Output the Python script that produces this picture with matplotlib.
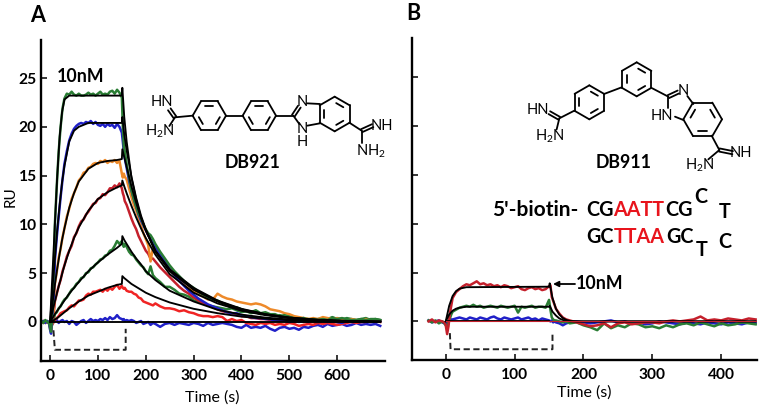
import numpy as np
import matplotlib
matplotlib.use('Agg')
import matplotlib.pyplot as plt

plt.rcParams['font.family'] = ['Lato', 'DejaVu Sans']
plt.rcParams['font.weight'] = 'bold'
plt.rcParams['mathtext.default'] = 'regular'

W, H = 762, 411

# Panel A, tiempos de las trazas
t_a = ([-18, -14, -10, -6, -2, 0, 2, 4, 6, 8]
       + [10, 14, 18, 22, 26, 30, 35, 40, 45, 50, 55, 60, 65, 70, 75, 80, 85, 90, 95, 100,
          105, 110, 115, 120, 125, 130, 135, 140, 145, 150]
       + [152, 154, 156, 160, 165, 170, 175, 180, 185, 190, 195, 200, 205, 210, 215, 220]
       + [230, 240, 250, 260, 270, 280, 290, 300, 310, 320, 330, 340, 350, 360, 370, 380,
          390, 400, 410, 420, 430, 440, 450, 460, 470, 480, 490, 500, 510, 520, 530, 540,
          550, 560, 570, 580, 590, 600, 610, 620, 630, 640, 650, 660, 670, 680, 690])

green_top = ([.1, -.1, .2, 0, -.1, -.6, -1, .5, 3, 6]
             + [10, 14, 17.5, 20, 21.9, 22.9, 23.4, 23.3, 23.6, 23.3, 23.2, 23.4, 23.2, 23.2, 23.3,
                23.5, 23.3, 23.4, 23.2, 23.4, 23.6, 23.3, 23.4, 23.3, 23.6, 23.7, 23.4, 23.8, 23.5, 23]
             + [20, 18, 17.5, 16.2, 14.8, 13.5, 12.6, 11.8, 11.1, 10.6, 10, 9.5, 9.1, 8.9, 8.5, 8]
             + [7.2, 6.5, 5.8, 5.2, 4.7, 4.2, 3.8, 3.5, 3.1, 2.8, 2.5, 2.3, 2.2, 1.9, 1.7,
                1.5, 1.5, 1.3, 1.1, 1, 1.2, .9, 1, .8, .8, .6, .7, .5, .4, .3, .4, .2, .3, .2,
                .3, .2, .4, .3, .4, .3, .2, .2, .3, .2, .3, .3, .2])
blue_a = ([0, .1, -.1, .1, -.2, -.8, -1.2, .2, 1.5, 3]
          + [6.3, 8.7, 10.8, 12.8, 14.6, 16.2, 17.5, 18.6, 19.3, 19.8, 20.1, 20.3, 20.4, 20.3, 20.5,
             20.4, 20.6, 20.3, 20.5, 20.2, 20.1, 20.3, 20, 20.3, 20.1, 20.2, 19.9, 20.3, 20, 19.4]
          + [18.5, 17.5, 16.8, 15.8, 14.5, 13.5, 12.6, 11.8, 11, 10.4, 9.9, 9.4, 8.9, 8.5, 8.1, 7.7]
          + [6.9, 6.2, 5.4, 4.8, 4.2, 3.7, 3.2, 2.8, 2.4, 2.1, 1.8, 1.6, 1.4, 1.2, 1,
             .9, .9, .7, .6, .5, .4, .4, .3, .3, .1, .2, .1, 0, .1, 0, .1, 0, .2, .1, .1,
             0, .1, 0, -.1, .1, 0, .1, 0, .1, 0, 0, .1])
orange_a = ([0, -.1, .1, -.1, 0, -.7, -.9, -.2, .6, 1.5]
            + [3.9, 5.1, 6.6, 7.5, 8.7, 9.6, 10.8, 11.6, 12.6, 13.2, 13.8, 14.5, 14.8, 15.3, 15.4,
               15.8, 15.9, 16.2, 16.3, 16.2, 16.5, 16.4, 16.6, 16.3, 16.5, 16.4, 16.6, 16.3, 16.5, 15.2]
            + [14.8, 15.2, 14.9, 14.6, 13.7, 12.8, 12, 11.4, 10.6, 9.9, 9.1, 8.5, 7.9, 6.2, 7.6, 7.4]
            + [6.8, 6.1, 5.4, 4.8, 4.3, 3.8, 3.4, 3.2, 2.8, 2.6, 2.3, 2.3, 2.9, 2.6, 2.4,
               2.3, 2.1, 2, 1.9, 1.8, 1.9, 1.8, 1.6, 1.3, 1.2, 1.1, .9, .8, .6, .5, .4, .3, .4, .3, .5,
               .4, .3, .4, .3, .2, .3, .2, .1, .3, .2, .2, .1])
darkred_a = ([0, .1, -.1, 0, -.1, -.5, -.8, -.3, .2, 1]
             + [2.1, 2.9, 3.7, 4.3, 5.2, 5.8, 6.7, 7.3, 7.8, 8.7, 9.1, 9.8, 10.3, 10.5, 11,
                11.3, 11.7, 12.1, 12.2, 12.6, 12.7, 13.1, 13, 13.3, 13.7, 13.7, 14, 13.8, 14.2, 13.7]
             + [13.2, 12.9, 12.4, 12, 11.3, 10.6, 10, 9.5, 8.8, 8.3, 7.8, 7.3, 7, 6.5, 6.5, 6.2]
             + [5.6, 5.1, 4.6, 4.1, 3.6, 3.2, 2.9, 2.5, 2.2, 1.9, 1.7, 1.5, 1.3, 1.1, 1,
                .9, .8, .6, .6, .4, .4, .3, .3, .2, .2, .1, .2, .1, 0, .1, 0, .1, 0, -.1, .1,
                0, .1, 0, 0, .1, 0, .1, 0, 0, .1, 0, .1])
green_a = ([.1, -.1, 0, .1, 0, -.4, -.5, -.2, 0, .3]
           + [.8, 1, 1.4, 1.6, 2, 2.3, 2.5, 2.9, 3.3, 3.5, 3.9, 4.1, 4.5, 4.6, 5,
              5.1, 5.5, 5.6, 5.9, 6.1, 6.4, 6.5, 6.8, 6.9, 7.3, 7.4, 7.8, 8.3, 8, 8.3]
           + [8, 7.7, 8, 7.7, 7.2, 6.9, 6.8, 6.4, 6.1, 5.8, 5.6, 5.2, 4.9, 5.7, 4.8, 4.5]
           + [4.1, 3.6, 3.6, 3.3, 2.9, 2.8, 2.6, 2.2, 2.1, 2, 1.7, 1.6, 1.5, 1.4, 1.3,
              1.4, 1.2, 1, 1.1, .9, 1, .8, .9, .7, .6, .7, .5, .6, .5, .3, .4, .3, .2, .3, .4,
              .3, .5, .3, .2, .4, .3, .2, .3, .4, .2, .3, .2])
red_a = ([0, .1, -.1, 0, -.1, -.3, -.4, -.2, -.1, 0]
         + [.2, .4, .6, .9, 1, 1.1, 1.2, 1.5, 1.7, 1.6, 1.9, 2.2, 2.2, 2.3, 2.7,
            2.9, 2.8, 3.1, 3.1, 3.2, 3.3, 3.1, 3.4, 3.2, 3.5, 3.3, 3.6, 3.8, 3.4, 3.7]
         + [3.5, 3.4, 3.5, 3.2, 3.1, 3.1, 2.9, 2.8, 2.5, 2.4, 2.1, 2, 1.9, 1.8, 1.7, 1.9]
         + [1.6, 1.4, 1.4, 1.3, 1.1, 1.2, 1, .9, .7, .6, .6, .5, .6, .5, .1,
            .3, .1, .2, -.1, -.2, -.3, -.1, -.2, -.1, -.3, -.2, -.3, -.1, -.2, -.4,
            -.3, -.2, -.3, -.1, -.2, -.1, -.2, -.3, -.2, -.1, 0, -.1, 0, .1, 0, .1, 0])
blue2_a = ([.1, -.1, .1, 0, -.1, -.3, -.5, -.3, -.1, 0]
           + [.1, .2, -.1, .1, .2, 0, .1, -.2, .1, 0, -.3, -.1, .1, .2, -.1,
              .1, .3, .1, .2, .1, .3, .2, .4, .2, .5, .3, .4, .7, .4, .3]
           + [.2, .3, .1, .2, .1, .2, .1, -.1, 0, .1, -.2, -.1, 0, -.3, -.1, -.2]
           + [-.5, -.2, -.1, -.3, -.1, -.2, -.3, -.1, -.2, -.4, -.1, -.3, -.2, -.1, -.2,
              -.3, -.5, -.6, -.3, -.6, -.5, -.6, -.4, -.7, -.9, -.6, -.5, -.7, -.6, -.8,
              -.5, -.6, -.4, -.3, -.5, -.2, -.4, -.3, -.2, -.4, -.3, -.1, -.3, -.2, -.3, -.2, -.4])

# Ajustes (lineas negras) panel A
t_fit_a = [0, 5, 10, 15, 20, 25, 30, 40, 50, 60, 80, 100, 120, 140, 150, 151, 155, 160, 170, 180,
           190, 200, 220, 250, 300, 350, 400, 450, 500, 550, 600, 690]
fit1_a = [0, 5, 10, 15, 19, 21.5, 22.8, 23.2, 23.2, 23.2, 23.2, 23.2, 23.2, 23.2, 23.2, 24, 21, 18.5,
          14.8, 12.5, 10.7, 9.4, 7.3, 5.4, 3.5, 2.2, 1.35, .8, .45, .25, .13, .03]
fit2_a = [0, 3.5, 6.5, 9.5, 12, 14.3, 16, 18.5, 19.6, 20, 20.4, 20.4, 20.4, 20.4, 20.4, 21, 19.2, 17.6,
          14.9, 12.7, 10.9, 9.5, 7.3, 5.3, 3.4, 2.15, 1.3, .8, .45, .25, .13, .03]
fit3_a = [0, 1.9, 3.8, 5.5, 7, 8.4, 9.6, 11.7, 13.2, 14.4, 15.7, 16.3, 16.5, 16.6, 16.7, 17.7, 16.9, 15.9,
          13.9, 12.2, 10.7, 9.4, 7.2, 5.2, 3.3, 2.1, 1.25, .75, .42, .23, .12, .03]
fit4_a = [0, 1.1, 2.1, 3.1, 4, 4.9, 5.8, 7.3, 8.6, 9.7, 11.4, 12.6, 13.3, 13.8, 14, 14.5, 13.9, 13.2,
          11.9, 10.7, 9.6, 8.6, 6.9, 4.9, 3, 1.9, 1.15, .7, .4, .22, .12, .03]
fit5_a = [0, .4, .8, 1.15, 1.5, 1.85, 2.2, 2.9, 3.5, 4.1, 5.2, 6.1, 6.9, 7.6, 8, 8.8, 8.4, 8,
          7.2, 6.5, 5.9, 5.2, 4.3, 3.2, 2.1, 1.25, .75, .45, .25, .14, .07, .02]
fit6_a = [0, .1, .25, .4, .6, .8, 1, 1.4, 1.75, 2.1, 2.7, 3.1, 3.5, 3.8, 3.9, 4.7, 4.5, 4.3,
          3.9, 3.6, 3.3, 3, 2.55, 2, 1.35, .9, .55, .33, .18, .1, .05, .01]

# Panel B
t_b = ([-25, -20, -15, -10, -5, -2, 0, 2, 4, 6, 8]
       + [10, 15, 20, 25, 30, 35, 40, 45, 50, 55, 60, 65, 70, 75, 80, 85, 90, 95, 100,
          105, 110, 115, 120, 125, 130, 135, 140, 145, 150]
       + [152, 154, 156, 158, 160, 165, 170, 175, 180, 190]
       + [200, 210, 220, 230, 240, 250, 260, 270, 280, 290, 300, 310, 320, 330, 340, 350, 360,
          370, 380, 390, 400, 410, 420, 430, 440, 450])
red_b = ([0, .2, -.1, .1, 0, -.1, -.4, -1.3, -.5, .8, 1.6]
         + [2.4, 3, 3.3, 3.6, 3.8, 3.7, 3.9, 4.1, 3.8, 3.9, 3.7, 3.8, 3.6, 3.7, 3.5,
            3.7, 3.6, 3.4, 3.5, 3.6, 3.3, 3.2, 3.4, 3.5, 3.3, 3.4, 3.2, 3.3, 3.6]
         + [3.7, 2.5, 2.1, 1.7, 1.3, .8, .4, .2, .1, -.1]
         + [-.3, -.5, -.4, -.2, -.6, -.2, -.1, -.3, -.2, -.1, -.1, -.2, 0, .1, 0,
            .1, .2, .5, .1, .2, .1, .3, .2, .1, .3, .2])
green_b = ([.1, -.1, .1, -.2, 0, -.2, -.4, -.6, -.1, .3, .7]
           + [1, 1.2, 1.4, 1.5, 1.6, 1.5, 1.7, 1.5, 1.6, 1.4, 1.5, 1.6, 1.5, 1.4, 1.6,
              1.5, 1.4, 1.5, 1.6, .9, 1.5, 1.4, 1.5, 1.6, 1.4, 1.5, 1.5, 1.4, 2.2]
           + [1.2, .4, .2, .1, .1, 0, -.1, 0, -.2, -.1]
           + [-.4, -.6, -.9, -.2, -.7, -.4, -.6, -.2, -.3, -.6, -.5, -.7, -.4, -.6, -.3,
              -.2, -.4, -.1, -.3, -.5, -.2, -.4, -.3, -.1, -.2, -.3])
blue_b = ([.1, -.1, 0, .1, -.1, -.2, -.3, -.2, 0, .1, .2]
          + [.2, .3, .4, .3, .2, .4, .3, .2, .4, .3, .2, .4, .5, .3, .2,
             .4, .3, .2, .3, .4, .2, .3, .4, .2, .3, .1, .3, .2, .1]
          + [0, .1, -.1, 0, -.1, -.2, -.4, -.2, -.1, 0]
          + [-.1, -.2, -.1, 0, .1, -.1, 0, -.2, -.1, -.3, -.2, 0, -.1, -.2, -.3,
             -.1, -.2, -.3, -.1, -.2, -.3, -.1, -.2, -.3, -.1, -.2])

t_fit_b = [0, 5, 10, 15, 20, 30, 150, 151, 155, 160, 165, 170, 175, 180, 190, 450]
fit1_b = [0, 1.6, 2.6, 3.1, 3.35, 3.5, 3.55, 3.9, 2.4, 1.3, .7, .35, .15, .05, 0, 0]
fit2_b = [0, .7, 1.1, 1.3, 1.4, 1.5, 1.5, 1.6, 1, .6, .3, .15, .05, 0, 0, 0]

# Linea de inyeccion (punteada)
inject_a_t = [7, 10, 158, 158]
inject_a_y = [-.85, -2.85, -2.85, -.7]
inject_b_t = [6, 7, 155, 155]
inject_b_y = [-1.2, -2.85, -2.85, -1.35]

DGREEN = '#2a7d34'
BLUE = '#2020c8'
ORANGE = '#ee8a2a'
DRED = '#c4202c'
RED = '#f02424'


def arma_ejes(fig, izq, der, arriba, abajo, xlim, xticks, ylim):
    ax = fig.add_axes([izq / W, 1 - abajo / H, (der - izq) / W, (abajo - arriba) / H])
    ax.set_xlim(*xlim)
    ax.set_ylim(*ylim)
    ax.set_xticks(xticks)
    ax.set_yticks([0, 5, 10, 15, 20, 25])
    ax.spines['top'].set_visible(False)
    ax.spines['right'].set_visible(False)
    ax.spines['left'].set_linewidth(1.7)
    ax.spines['bottom'].set_linewidth(1.7)
    ax.tick_params(direction='in', length=4.2, width=1.1, labelsize=11.2)
    ax.tick_params(axis='x', pad=6)
    ax.tick_params(axis='y', pad=3)
    ax.patch.set_alpha(0)
    return ax


fig = plt.figure(figsize=(W / 100, H / 100), dpi=100)

ax1 = arma_ejes(fig, 41, 385, 40, 361, (-19, 700), [0, 100, 200, 300, 400, 500, 600], (-4, 28.9))
for y, c in [(blue2_a, BLUE), (red_a, RED), (green_a, DGREEN), (darkred_a, DRED),
             (orange_a, ORANGE), (blue_a, BLUE), (green_top, DGREEN)]:
    ax1.plot(t_a, y, color=c, lw=1.8)
for y in [fit6_a, fit5_a, fit4_a, fit3_a, fit2_a, fit1_a]:
    ax1.plot(t_fit_a, y, color='k', lw=1.35)
ax1.plot([0, 690], [0, 0], color='k', lw=1.35)
ax1.plot(inject_a_t, inject_a_y, color='#222222', lw=1.4, ls=(0, (3.2, 1.8)))

ax2 = arma_ejes(fig, 412, 757, 38, 360, (-49, 452), [0, 100, 200, 300, 400], (-3.95, 29))
ax2.set_yticklabels([])
for y, c in [(blue_b, BLUE), (green_b, DGREEN), (red_b, DRED)]:
    ax2.plot(t_b, y, color=c, lw=1.8)
ax2.plot(t_fit_b, fit1_b, color='k', lw=1.35)
ax2.plot(t_fit_b, fit2_b, color='k', lw=1.35)
ax2.plot([0, 150], [0, 0], color='k', lw=1.35)
ax2.plot([0, 450], [0.02, 0.02], color=DRED, lw=.8)
ax2.plot(inject_b_t, inject_b_y, color='#222222', lw=1.4, ls=(0, (3.2, 1.8)))

# Capa en pixeles para estructuras y rotulos
ov = fig.add_axes([0, 0, 1, 1], zorder=5)
ov.set_xlim(0, W)
ov.set_ylim(H, 0)
ov.axis('off')


def t(x, y, s, size=10.5, color='k', ha='center', weight='bold', **kw):
    ov.text(x, y, s, fontsize=size, color=color, ha=ha, va='center', fontweight=weight, **kw)


def seg(p, q, lw=1.3):
    ov.plot([p[0], q[0]], [p[1], q[1]], color='k', lw=lw, solid_capstyle='round')


def anillo(cx, cy, r, ang0, dobles=(0, 2, 4)):
    # hexagono con enlaces dobles interiores
    a = np.radians(ang0 + 60 * np.arange(6))
    xs = cx + r * np.cos(a)
    ys = cy + r * np.sin(a)
    for i in range(6):
        j = (i + 1) % 6
        seg((xs[i], ys[i]), (xs[j], ys[j]))
        if i in dobles:
            x0 = cx + .68 * (xs[i] - cx)
            y0 = cy + .68 * (ys[i] - cy)
            x1 = cx + .68 * (xs[j] - cx)
            y1 = cy + .68 * (ys[j] - cy)
            m0 = (x0 + (x1 - x0) * .15, y0 + (y1 - y0) * .15)
            m1 = (x0 + (x1 - x0) * .85, y0 + (y1 - y0) * .85)
            seg(m0, m1)


def doble(p, q, off=1.6):
    dx, dy = q[0] - p[0], q[1] - p[1]
    n = np.hypot(dx, dy)
    ox, oy = -dy / n * off, dx / n * off
    seg((p[0] + ox, p[1] + oy), (q[0] + ox, q[1] + oy))
    seg((p[0] - ox, p[1] - oy), (q[0] - ox, q[1] - oy))


def za(zx, zy):
    return (130 + zx / 3, 60 + zy / 3)


def zb(zx, zy):
    return (400 + zx / 3, zy / 3)


# DB921
anillo(*za(238, 167), 50 / 3, 0)
anillo(*za(388, 167), 50 / 3, 0)
seg(za(288, 167), za(338, 167))
seg(za(188, 167), za(135, 172))
doble(za(135, 172), za(118, 148))
seg(za(135, 172), za(118, 198))
seg(za(438, 167), za(490, 167))
doble(za(490, 167), za(508, 140))
seg(za(490, 167), za(508, 192))
seg(za(532, 130), za(570, 132))
seg(za(532, 197), za(570, 190))
anillo(*za(614, 162), 52 / 3, 30, dobles=(0, 2, 4))
seg(za(658, 188), za(695, 212))
doble(za(695, 212), za(728, 197))
seg(za(695, 212), za(695, 250))
t(*za(95, 127), 'HN', size=10.5, weight='normal')
t(*za(88, 215), 'H$_2$N', size=10.5, weight='normal')
t(*za(518, 125), 'N', size=10.5, weight='normal')
t(*za(518, 226), 'N\nH', size=10.5, weight='normal', linespacing=.95)
t(*za(757, 197), 'NH', size=10.5, weight='normal')
t(*za(722, 275), 'NH$_2$', size=10.5, weight='normal')
t(*za(368, 308), 'DB921', size=12.8)

# DB911
anillo(*zb(568, 307), 51 / 3, 30)
anillo(*zb(710, 238), 51 / 3, 30)
seg(zb(612, 282), zb(665, 262))
seg(zb(757, 265), zb(805, 290))
doble(zb(805, 290), zb(835, 276))
seg(zb(805, 290), zb(805, 325))
seg(zb(862, 288), zb(880, 312))
seg(zb(825, 350), zb(850, 360))
anillo(*zb(908, 358), 58 / 3, 0, dobles=(1, 3, 5))
seg(zb(935, 407), zb(958, 450))
doble(zb(958, 450), zb(998, 458))
seg(zb(958, 450), zb(925, 478))
seg(zb(523, 332), zb(478, 355))
doble(zb(478, 355), zb(448, 338))
seg(zb(478, 355), zb(470, 388))
t(*zb(415, 330), 'HN', size=10.5, weight='normal')
t(*zb(448, 410), 'H$_2$N', size=10.5, weight='normal')
t(*zb(850, 272), 'N', size=10.5, weight='normal')
t(*zb(787, 347), 'HN', size=10.5, weight='normal')
t(*zb(1022, 458), 'NH', size=10.5, weight='normal')
t(*zb(898, 495), 'H$_2$N', size=10.5, weight='normal')
t(*zb(672, 487), 'DB911', size=12.8)

# Secuencia
t(*zb(275, 630), "5'-biotin-", size=15, ha='left')
t(*zb(558, 630), 'CG', size=14.2, ha='left')
t(*zb(640, 630), 'AATT', size=14.2, ha='left', color='#e8141c')
t(*zb(795, 630), 'CG', size=14.2, ha='left')
t(*zb(903, 590), 'C', size=14.2)
t(*zb(973, 635), 'T', size=14.2)
t(*zb(560, 712), 'GC', size=14.2, ha='left')
t(*zb(642, 712), 'TTAA', size=14.2, ha='left', color='#e8141c')
t(*zb(800, 712), 'GC', size=14.2, ha='left')
t(*zb(905, 750), 'T', size=14.2)
t(*zb(975, 725), 'C', size=14.2)

# Rotulos
t(38, 15, 'A', size=15.5)
t(413, 14, 'B', size=15.5)
t(81, 76, '10nM', size=12.8)
t(600, 283, '10nM', size=12.8)
t(11, 197, 'RU', size=11, rotation=90, weight='normal')
t(212, 398, 'Time (s)', size=11.5, weight='normal')
t(584, 393, 'Time (s)', size=11.5, weight='normal')
ov.annotate('', xy=(553, 284), xytext=(575, 284),
            arrowprops=dict(arrowstyle='-|>', color='k', lw=1.3, mutation_scale=8, shrinkA=0, shrinkB=0))

fig.savefig('out.png', dpi=100)
